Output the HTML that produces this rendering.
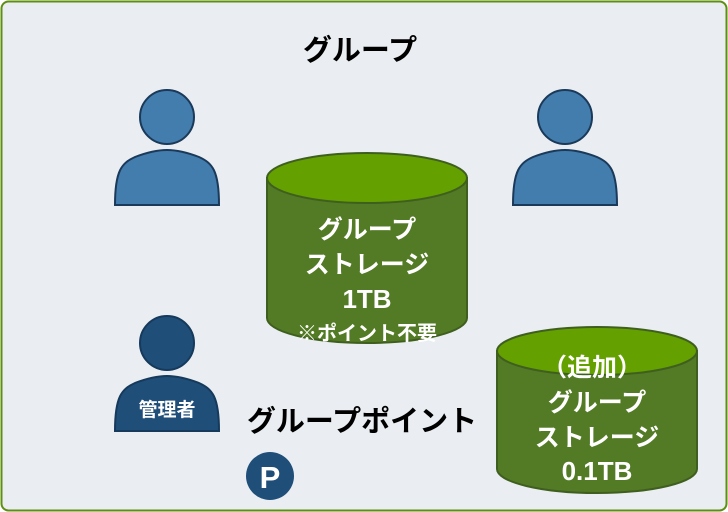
<!DOCTYPE html>
<html><head><meta charset="utf-8"><style>
html,body{margin:0;padding:0;width:728px;height:512px;overflow:hidden;background:#fff}
svg{display:block}
text{font-family:"Liberation Sans","Noto Sans CJK JP",sans-serif;font-weight:bold}
</style></head><body>
<svg width="728" height="512" viewBox="0 0 728 512">
<rect x="1.5" y="1.5" width="725" height="509" rx="7" fill="#eaeef2" stroke="#5f8f0f" stroke-width="2"/>
<text x="360" y="60" font-size="29" text-anchor="middle" fill="#000">グループ</text>
<g fill="#427dae" stroke="#1b3a5a" stroke-width="2">
<circle cx="167" cy="117" r="27"/>
<path d="M115,205 C115,170 122,163 135,157 C148,152 158,150 167,150 C176,150 186,152 199,157 C212,163 219,170 219,205 Z"/>
<circle cx="565" cy="117" r="27"/>
<path d="M513,205 C513,170 520,163 533,157 C546,152 556,150 565,150 C574,150 584,152 597,157 C610,163 617,170 617,205 Z"/>
</g>
<g fill="#1f4e79" stroke="#163a5c" stroke-width="2">
<circle cx="167" cy="343" r="27"/>
<path d="M115,431 C115,396 122,389 135,383 C148,378 158,376 167,376 C176,376 186,378 199,383 C212,389 219,396 219,431 Z"/>
</g>
<text x="167" y="416" font-size="19" text-anchor="middle" fill="#fff">管理者</text>
<g stroke="#3f5f1f" stroke-width="2">
<path d="M267,178 L267,318 A100,25 0 0 0 467,318 L467,178 Z" fill="#537a24"/>
<ellipse cx="367" cy="178" rx="100" ry="25" fill="#64a000"/>
</g>
<g fill="#fff" text-anchor="middle">
<text x="367" y="238" font-size="25">グループ</text>
<text x="367" y="273" font-size="25">ストレージ</text>
<text x="367" y="308" font-size="26">1TB</text>
<text x="367" y="340" font-size="20">※ポイント不要</text>
</g>
<g stroke="#3f5f1f" stroke-width="2">
<path d="M497,351 L497,469 A100,24 0 0 0 697,469 L697,351 Z" fill="#537a24"/>
<ellipse cx="597" cy="351" rx="100" ry="24" fill="#64a000"/>
</g>
<g fill="#fff" text-anchor="middle">
<text x="592" y="376" font-size="25">（追加）</text>
<text x="597" y="411" font-size="25">グループ</text>
<text x="597" y="446" font-size="25">ストレージ</text>
<text x="597" y="480" font-size="26">0.1TB</text>
</g>
<text x="362" y="431" font-size="29" text-anchor="middle" fill="#000">グループポイント</text>
<circle cx="270" cy="476" r="24" fill="#1f4e79"/>
<text x="270" y="488" font-size="31" text-anchor="middle" fill="#fff">P</text>
</svg>
</body></html>
